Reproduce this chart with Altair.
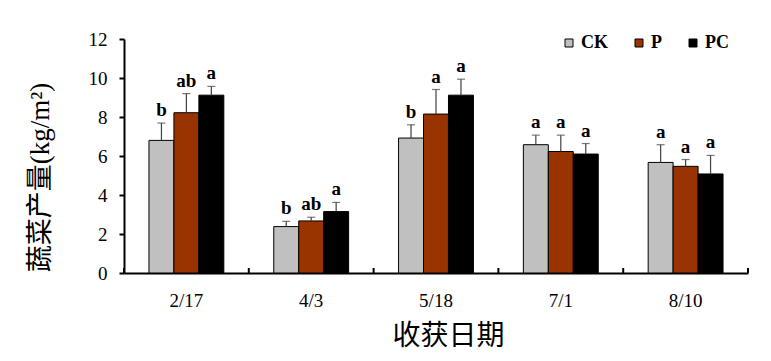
import altair as alt
import pandas as pd

dates = ["2/17", "4/3", "5/18", "7/1", "8/10"]
groups = ["CK", "P", "PC"]
colors = ["#C0C0C0", "#993300", "#000000"]

ck = [6.80, 2.38, 6.92, 6.58, 5.67]
ck_err = [0.89, 0.27, 0.68, 0.49, 0.91]
p = [8.22, 2.67, 8.15, 6.23, 5.47]
p_err = [0.98, 0.19, 1.26, 0.84, 0.35]
pc = [9.12, 3.15, 9.12, 6.10, 5.08]
pc_err = [0.45, 0.47, 0.82, 0.54, 0.95]
ck_sig = ["b", "b", "b", "a", "a"]
p_sig = ["ab", "ab", "a", "a", "a"]
pc_sig = ["a", "a", "a", "a", "a"]

rows = []
for g, vals, errs, sigs in [("CK", ck, ck_err, ck_sig), ("P", p, p_err, p_sig), ("PC", pc, pc_err, pc_sig)]:
    for d, v, e, s in zip(dates, vals, errs, sigs):
        rows.append({"date": d, "group": g, "val": v, "top": v + e, "sig": s})
df = pd.DataFrame(rows)
ticks_df = pd.DataFrame({"date": dates})

SERIF = "Times New Roman, Liberation Serif, serif"
CJK = "Times New Roman, Liberation Serif, Noto Sans CJK SC"
W, H = 624, 234

xaxis = alt.Axis(title="收获日期", titleFont="Noto Sans CJK SC", titleFontSize=28,
                 titleFontWeight="normal", titleColor="#000",
                 titleX=324, titleY=63, titleBaseline="middle", titleAlign="center",
                 labelFont=SERIF, labelFontSize=19, labelColor="#000", labelAngle=0,
                 labelPadding=18, labelBaseline="top", ticks=False,
                 labelOverlap=False,
                 domainColor="#000", domainWidth=2, grid=False)
yaxis = alt.Axis(values=[0, 2, 4, 6, 8, 10, 12], title="蔬菜产量(kg/m²)",
                 titleFont=CJK, titleFontSize=27, titleFontWeight="normal",
                 titleColor="#000", titleAngle=270, titleX=-84, titleY=138,
                 titleBaseline="middle", titleAlign="center",
                 labelFont=SERIF, labelFontSize=19, labelColor="#000",
                 labelOverlap=False, labelFlush=False,
                 labelPadding=12, tickSize=5, tickWidth=2, tickColor="#000",
                 domainColor="#000", domainWidth=2, grid=False)
xscale = alt.Scale(paddingInner=0, paddingOuter=0)
yscale = alt.Scale(domain=[0, 12], nice=False)

def X(**kw):
    return alt.X("date:N", sort=dates, scale=xscale, axis=xaxis, **kw)

def Y(f):
    return alt.Y(f, scale=yscale, axis=yaxis)

xo = alt.XOffset("group:N", sort=groups,
                 scale=alt.Scale(paddingOuter=1, paddingInner=0))

bars = alt.Chart(df).mark_bar(stroke="#000", strokeWidth=1).encode(
    x=X(), xOffset=xo, y=Y("val:Q"),
    color=alt.Color("group:N", sort=groups,
                    scale=alt.Scale(domain=groups, range=colors),
                    legend=alt.Legend(orient="none", legendX=436, legendY=-5,
                                      direction="horizontal", title=None,
                                      symbolType="square", symbolSize=64,
                                      symbolStrokeColor="#000", symbolStrokeWidth=1,
                                      labelFont=SERIF, labelFontSize=18,
                                      labelFontWeight="bold", labelColor="#000",
                                      labelOffset=3, columnPadding=22, padding=0)),
)

err = alt.Chart(df).mark_rule(color="#404040", strokeWidth=1.2).encode(
    x=X(), xOffset=xo, y=Y("val:Q"), y2="top:Q")
caps = alt.Chart(df).mark_tick(color="#404040", size=8, thickness=1.2).encode(
    x=X(), xOffset=xo, y=Y("top:Q"))
labels = alt.Chart(df).mark_text(dy=-7, baseline="alphabetic", font=SERIF,
                                 fontWeight="bold", fontSize=19, color="#000").encode(
    x=X(), xOffset=xo, y=Y("top:Q"), text="sig:N")

tick_rules = alt.Chart(ticks_df).mark_rule(color="#000", strokeWidth=2).encode(
    x=X(bandPosition=0), y=alt.value(H), y2=alt.value(H - 5))
tick_last = alt.Chart(ticks_df).transform_filter(
    alt.datum.date == dates[-1]).mark_rule(color="#000", strokeWidth=2).encode(
    x=X(bandPosition=1), y=alt.value(H), y2=alt.value(H - 5))

chart = alt.layer(bars, err, caps, labels, tick_rules, tick_last).properties(
    width=W, height=H, autosize="none",
    padding={"left": 124, "top": 39, "right": 23, "bottom": 88},
    background="white",
).configure_view(stroke=None)

chart.save("out.html", embed_options={"renderer": "svg", "actions": False})
